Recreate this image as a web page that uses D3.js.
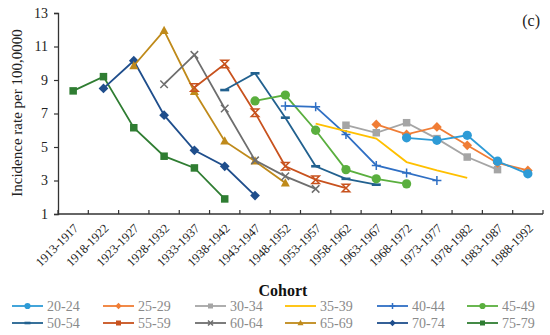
<!DOCTYPE html>
<html><head><meta charset="utf-8">
<script src="https://cdn.jsdelivr.net/npm/d3@7"></script>
<style>body{margin:0;background:#fff}svg{display:block}</style>
</head><body>
<svg id="chart" width="550" height="335"></svg>
<script>
const cohorts = ["1913-1917","1918-1922","1923-1927","1928-1932","1933-1937","1938-1942","1943-1947","1948-1952","1953-1957","1958-1962","1963-1967","1968-1972","1973-1977","1978-1982","1983-1987","1988-1992"];
const ageGroups = ["20-24","25-29","30-34","35-39","40-44","45-49","50-54","55-59","60-64","65-69","70-74","75-79"];
const startCohort = [11,10,9,8,7,6,5,4,3,2,1,0];
const v20_24 = [5.55,5.4,5.7,4.15,3.4];
const v25_29 = [6.35,5.75,6.2,5.1,4.05,3.6];
const v30_34 = [6.3,5.85,6.45,5.5,4.4,3.65];
const v35_39 = [6.4,5.95,5.5,4.1,3.6,3.15];
const v40_44 = [7.45,7.4,5.75,3.9,3.45,3.0];
const v45_49 = [7.75,8.1,6.0,3.65,3.1,2.8];
const v50_54 = [8.4,9.4,6.75,3.85,3.1,2.75];
const v55_59 = [8.55,9.95,7.05,3.85,3.05,2.55];
const v60_64 = [8.75,10.5,7.3,4.2,3.25,2.5];
const v65_69 = [9.85,11.95,8.3,5.35,4.15,2.85];
const v70_74 = [8.5,10.15,6.9,4.8,3.85,2.1];
const v75_79 = [8.35,9.2,6.15,4.45,3.75,1.9];
const values = [v20_24,v25_29,v30_34,v35_39,v40_44,v45_49,v50_54,v55_59,v60_64,v65_69,v70_74,v75_79];
const yTicks = [1,3,5,7,9,11,13];

const colors = ["#2E9BD6","#F07D35","#A5A5A5","#FFC000","#2F6FC4","#5AAF3E","#22618F","#C8521E","#6E6E6E","#BF8A1A","#1F4E8C","#2F7D32"];
const markers = ["circle","diamond","square","none","plus","circle","dash","hourglass","cross","triangle","diamond","square"];
const legendMarkers = ["circle","diamond","square","none","plus","circle","dash","square","cross","triangle","diamond","square"];

const svg = d3.select("#chart");
const x = d3.scaleBand().domain(cohorts).range([58,543]);
const y = d3.scaleLinear().domain([1,13]).range([214,13]);
const font = "'Liberation Serif','Times New Roman',serif";

// axes
const yAxis = svg.append("g").attr("transform","translate(58,0)")
  .call(d3.axisLeft(y).tickValues(yTicks).tickSize(4).tickPadding(6).tickFormat(d3.format("d")));
yAxis.select(".domain").attr("stroke","#333").attr("stroke-width",1.3);
yAxis.selectAll(".tick line").attr("stroke","#333").attr("stroke-width",1.2);
yAxis.selectAll("text").attr("font-family",font).attr("font-size",14).attr("fill","#222");

const xg = svg.append("g");
xg.append("line").attr("x1",58).attr("x2",543).attr("y1",214).attr("y2",214).attr("stroke","#333").attr("stroke-width",1.6);
xg.selectAll("line.tk").data(cohorts.concat(["end"])).join("line").attr("class","tk")
  .attr("x1",(d,i)=>58+i*x.bandwidth()).attr("x2",(d,i)=>58+i*x.bandwidth())
  .attr("y1",214).attr("y2",210).attr("stroke","#333").attr("stroke-width",1.2);
xg.selectAll("text").data(cohorts).join("text")
  .attr("transform",d=>`translate(${x(d)+x.bandwidth()/2+6},${229}) rotate(-45)`)
  .attr("text-anchor","end").attr("font-family",font).attr("font-size",12.5).attr("fill","#222").text(d=>d);

svg.append("text").attr("transform","translate(22,113) rotate(-90)").attr("text-anchor","middle")
  .attr("font-family",font).attr("font-size",15).attr("fill","#222").text("Incidence rate per 100,0000");
svg.append("text").attr("x",540).attr("y",26).attr("text-anchor","end")
  .attr("font-family",font).attr("font-size",16).attr("fill","#222").text("(c)");
svg.append("text").attr("x",283).attr("y",296).attr("text-anchor","middle")
  .attr("font-family",font).attr("font-size",16).attr("font-weight","bold").attr("fill","#111").text("Cohort");

function drawMarker(g, type, cx, cy, color, s) {
  if (type==="circle") g.append("circle").attr("cx",cx).attr("cy",cy).attr("r",s*0.62).attr("fill",color);
  else if (type==="square") g.append("rect").attr("x",cx-s/2).attr("y",cy-s/2).attr("width",s).attr("height",s).attr("fill",color);
  else if (type==="diamond") g.append("path").attr("d",`M${cx},${cy-s*0.65}L${cx+s*0.65},${cy}L${cx},${cy+s*0.65}L${cx-s*0.65},${cy}Z`).attr("fill",color);
  else if (type==="triangle") g.append("path").attr("d",`M${cx},${cy-s*0.65}L${cx+s*0.6},${cy+s*0.45}L${cx-s*0.6},${cy+s*0.45}Z`).attr("fill",color);
  else if (type==="plus") g.append("path").attr("d",`M${cx-s*0.6},${cy}H${cx+s*0.6}M${cx},${cy-s*0.6}V${cy+s*0.6}`).attr("stroke",color).attr("stroke-width",1.5);
  else if (type==="dash") g.append("path").attr("d",`M${cx-s*0.6},${cy}H${cx+s*0.6}`).attr("stroke",color).attr("stroke-width",2.6);
  else if (type==="cross") g.append("path").attr("d",`M${cx-s*0.5},${cy-s*0.5}L${cx+s*0.5},${cy+s*0.5}M${cx+s*0.5},${cy-s*0.5}L${cx-s*0.5},${cy+s*0.5}`).attr("stroke",color).attr("stroke-width",1.5);
  else if (type==="hourglass") g.append("path").attr("d",`M${cx-s*0.5},${cy-s*0.5}H${cx+s*0.5}L${cx-s*0.5},${cy+s*0.5}H${cx+s*0.5}Z`).attr("stroke",color).attr("stroke-width",1.5).attr("fill","none");
}

const line = d3.line().x(d=>x(d.c)+x.bandwidth()/2).y(d=>y(d.v));
const series = ageGroups.map((a,k)=>({name:a,color:colors[k],marker:markers[k],
  pts:values[k].map((v,i)=>({c:cohorts[startCohort[k]+i],v}))}));

series.slice().reverse().forEach(s=>{
  const g = svg.append("g");
  g.append("path").attr("d",line(s.pts)).attr("fill","none").attr("stroke",s.color).attr("stroke-width",1.8);
  s.pts.forEach(p=>drawMarker(g,s.marker,x(p.c)+x.bandwidth()/2,y(p.v),s.color,7.5));
});

// legend
const legCols = [12,103,195,285,377,467];
const legRows = [306,323];
ageGroups.forEach((a,k)=>{
  const cx0 = legCols[k%6], cy = legRows[Math.floor(k/6)];
  const g = svg.append("g");
  g.append("line").attr("x1",cx0).attr("x2",cx0+31).attr("y1",cy).attr("y2",cy).attr("stroke",colors[k]).attr("stroke-width",1.8);
  if (legendMarkers[k]!=="none") drawMarker(g,legendMarkers[k],cx0+15.5,cy,colors[k],5);
  g.append("text").attr("x",cx0+35).attr("y",cy+5).attr("font-family",font).attr("font-size",14).attr("fill","#8a8a8a").text(a);
});
</script>
</body></html>
